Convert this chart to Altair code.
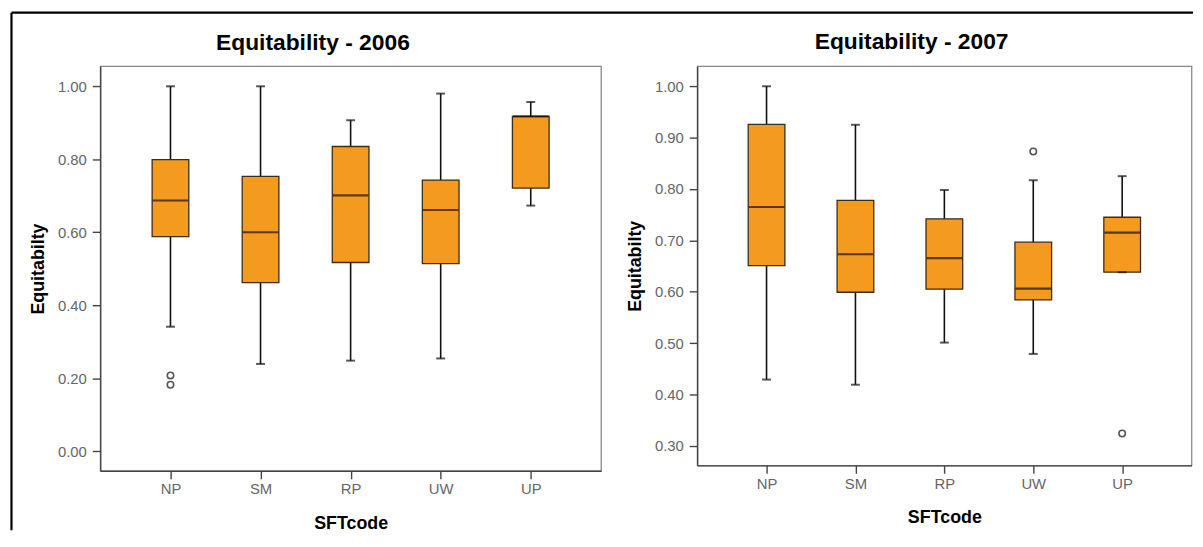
import altair as alt
import pandas as pd

codes = ["NP", "SM", "RP", "UW", "UP"]

# 2006 box statistics
lo_2006 = [0.341, 0.239, 0.248, 0.254, 0.673]
q1_2006 = [0.588, 0.462, 0.517, 0.514, 0.721]
med_2006 = [0.687, 0.600, 0.701, 0.661, 0.9175]
q3_2006 = [0.799, 0.753, 0.835, 0.743, 0.9175]
hi_2006 = [1.000, 1.000, 0.907, 0.980, 0.957]
out_code_2006 = ["NP", "NP"]
out_val_2006 = [0.2076, 0.182]

# 2007 box statistics
lo_2007 = [0.429, 0.419, 0.501, 0.479, 0.638]
q1_2007 = [0.651, 0.599, 0.605, 0.584, 0.638]
med_2007 = [0.765, 0.673, 0.6655, 0.606, 0.715]
q3_2007 = [0.926, 0.778, 0.742, 0.6965, 0.745]
hi_2007 = [1.000, 0.925, 0.798, 0.817, 0.825]
out_code_2007 = ["UW", "UP"]
out_val_2007 = [0.873, 0.324]

ticks_2006 = [0.0, 0.2, 0.4, 0.6, 0.8, 1.0]
ticks_2007 = [0.3, 0.4, 0.5, 0.6, 0.7, 0.8, 0.9, 1.0]

ORANGE = "#F39A1F"
FONT = "Liberation Sans"


def panel(lo, q1, med, q3, hi, oc, ov, ydom, yticks, title, w, h, title_offset, title_dx, border=False):
    stats = pd.DataFrame({"code": codes, "lo": lo, "q1": q1, "med": med, "q3": q3, "hi": hi})
    outl = pd.DataFrame({"code": oc, "val": ov})
    xenc = alt.X(
        "code:N", sort=codes,
        scale=alt.Scale(type="point", padding=0.78),
        axis=alt.Axis(title="SFTcode", labelAngle=0, tickSize=8, labelPadding=3,
                      titlePadding=18),
    )
    yscale = alt.Scale(domain=ydom, nice=False, zero=False)
    yaxis = alt.Axis(title="Equitabilty", values=yticks, format=".2f", grid=False,
                     tickSize=8, labelPadding=6, titlePadding=10)
    base = alt.Chart(stats)
    whisk = base.mark_rule(color="#111111", strokeWidth=1.6).encode(
        x=xenc, y=alt.Y("lo:Q", scale=yscale, axis=yaxis), y2="hi:Q")
    box = base.mark_bar(size=37, fill=ORANGE, stroke="#3b2d18", strokeWidth=1.3).encode(
        x=xenc, y=alt.Y("q1:Q", scale=yscale, axis=yaxis), y2="q3:Q")
    medt = base.mark_tick(size=36, thickness=2.2, color="#1a1005").encode(
        x=xenc, y=alt.Y("med:Q", scale=yscale, axis=yaxis))
    caplo = base.mark_tick(size=9, thickness=2, color="#111111").encode(
        x=xenc, y=alt.Y("lo:Q", scale=yscale, axis=yaxis))
    caphi = base.mark_tick(size=9, thickness=2, color="#111111").encode(
        x=xenc, y=alt.Y("hi:Q", scale=yscale, axis=yaxis))
    pts = alt.Chart(outl).mark_point(shape="circle", size=42, filled=False,
                                     stroke="#555555", strokeWidth=1.6, opacity=1).encode(
        x=xenc, y=alt.Y("val:Q", scale=yscale, axis=yaxis))
    layers = [whisk, box, medt, caplo, caphi, pts]
    if border:
        one = alt.Chart(pd.DataFrame({"k": [0]}))
        top = one.mark_rule(color="#000000", strokeWidth=2.2).encode(
            x=alt.value(-89.5), x2=alt.value(1102), y=alt.value(-54))
        left = one.mark_rule(color="#000000", strokeWidth=2.2).encode(
            x=alt.value(-89.5), y=alt.value(-54), y2=alt.value(468))
        layers += [top, left]
    return alt.layer(*layers).properties(
        width=w, height=h,
        title=alt.TitleParams(title, frame="group", anchor="middle", dx=title_dx,
                              offset=title_offset, baseline="alphabetic",
                              fontSize=23, font=FONT, fontWeight="bold", color="#000000"),
    )


left = panel(lo_2006, q1_2006, med_2006, q3_2006, hi_2006, out_code_2006, out_val_2006,
             [-0.054, 1.055], ticks_2006, "Equitability - 2006", 505, 408, -61.5, -38, border=True)
right = panel(lo_2007, q1_2007, med_2007, q3_2007, hi_2007, out_code_2007, out_val_2007,
              [0.262, 1.039], ticks_2007, "Equitability - 2007", 498.5, 402.5, -6, -33)

chart = alt.hconcat(left, right, spacing=97, bounds="flush").properties(
    padding={"left": 1, "top": 0.5, "right": 0, "bottom": 0},
    background="white",
).configure_view(
    stroke="#888888", strokeWidth=1.3,
).configure_axis(
    labelFont=FONT, labelFontSize=15, labelColor="#666666",
    titleFont=FONT, titleFontSize=18, titleFontWeight="bold", titleColor="#000000",
    domainColor="#444444", domainWidth=1.4, tickColor="#444444", tickWidth=1.4,
)

chart.save("out.html", embed_options={"renderer": "svg", "actions": False})
